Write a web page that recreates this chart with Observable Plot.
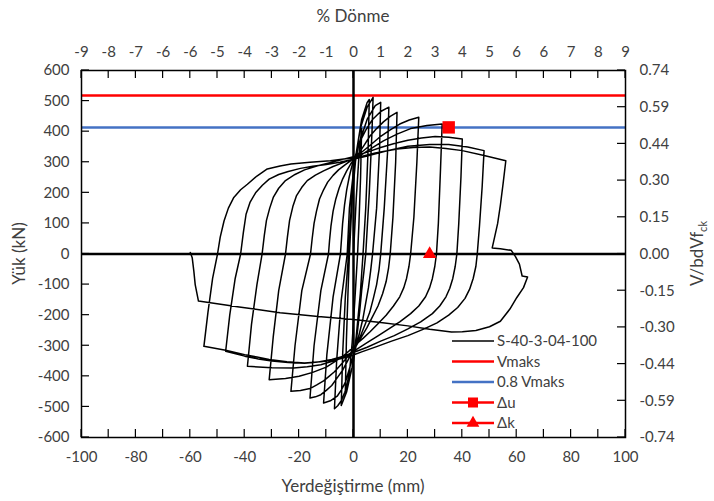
<!DOCTYPE html>
<html>
<head>
<meta charset="utf-8">
<script src="https://cdn.jsdelivr.net/npm/d3@7"></script>
<script src="https://cdn.jsdelivr.net/npm/@observablehq/plot@0.6"></script>
<style>
  html, body { margin: 0; padding: 0; background: #fff; }
  #chart { width: 714px; height: 501px; }
</style>
</head>
<body>
<div id="chart"></div>
<script>
// ---------------- DATA ----------------
// Hysteresis curve S-40-3-04-100: [displacement (mm), load (kN)] in loading order
const hysteresis = [
  [0,0],[1,180],[2,320],[3,410],
  [2.6,250],[2,100],[1.5,0],
  [0.5,-150],[-0.5,-290],[-1.5,-390],[-3,-450],
  [-2.6,-280],[-2,-120],[-1.5,0],
  [-0.5,180],[1,330],[3,440],[5,495],[5.8,505],
  [5.4,350],[4.5,150],[3.5,0],
  [2.5,-130],[1,-270],[-0.5,-370],[-2.5,-450],[-4.5,-495],
  [-4,-330],[-3,-140],[-1.8,0],
  [-0.8,160],[0.5,300],[2.5,410],[5,480],[7.2,512],
  [6.8,400],[5.8,200],[4.5,0],
  [3.8,-60],[3,-120],[2.3,-185],[1.5,-250],[0.8,-300],[0,-350],[-1,-390],[-2,-420],[-3.2,-452],[-4.5,-480],[-5.8,-496],[-7,-506],
  [-6.2,-350],[-4.5,-150],[-2.3,0],
  [-1.5,150],[0,270],[2,360],[5,440],[8,485],[10,496],
  [9.6,350],[8.5,150],[7,0],
  [6.3,-55],[5.5,-110],[4.5,-160],[3.5,-210],[2.3,-255],[1,-300],[0,-330],[-1,-360],[-2,-390],[-3,-420],[-4.5,-445],[-6,-465],[-8.5,-480],[-11,-487],
  [-9.8,-330],[-7.5,-140],[-4.8,0],
  [-4.4,50],[-4,100],[-3.3,160],[-2.5,210],[-1.5,255],[-0.5,290],[1,330],[2.5,370],[4.5,405],[7,440],[10,466],[13,480],
  [12.5,330],[11.3,150],[10,0],
  [9.4,-50],[8.5,-100],[7.3,-145],[6,-190],[4.3,-230],[2.5,-270],[0.7,-300],[-1,-330],[-2.5,-355],[-4,-380],[-6,-405],[-8,-430],[-10,-446],[-12,-460],[-14,-467],[-16,-471],
  [-14.5,-300],[-12,-120],[-9.2,0],
  [-8.8,45],[-8.3,90],[-7.5,140],[-6.5,180],[-5.3,215],[-4,245],[-2.5,272],[-1,295],[0.5,313],[2,330],[4,357],[6,385],[8.5,410],[11,432],[13.5,450],[16,463],
  [15.5,300],[14.5,120],[13.5,0],
  [12.9,-45],[12,-90],[10.7,-130],[9,-170],[7,-205],[5,-240],[3,-270],[1,-300],[-1,-323],[-3,-345],[-5,-365],[-7,-385],[-9,-400],[-11,-415],[-13.5,-428],[-16,-440],[-19.5,-446],[-23,-449],
  [-21.5,-300],[-19,-120],[-15.8,0],
  [-15.2,50],[-14.5,100],[-13.6,140],[-12.5,180],[-11,210],[-9.5,235],[-7.5,257],[-5.5,275],[-3,292],[-1,305],[1.5,322],[4,340],[7,362],[10,385],[13.5,406],[17,425],[20.5,438],[24,447],
  [23.3,300],[22.2,120],[21,0],
  [20.4,-40],[19.5,-80],[18.5,-110],[17,-140],[14.7,-170],[12,-200],[9,-228],[6,-255],[3.5,-276],[1,-295],[-1.5,-316],[-4,-335],[-7,-353],[-10,-370],[-15,-387],[-20,-400],[-25,-407],[-31,-411],
  [-29.5,-270],[-27.5,-120],[-25,0],
  [-24.3,55],[-23.5,110],[-22.3,155],[-21,190],[-19,218],[-17,240],[-14,258],[-11,272],[-7.5,286],[-4,298],[0,312],[3,325],[7,348],[11,370],[16,392],[21,410],[27,420],[32.6,425],
  [32,280],[31.2,100],[30.5,0],
  [29.9,-40],[29,-80],[28,-110],[26.5,-140],[24,-170],[21,-195],[17,-222],[13,-245],[9,-268],[5,-290],[1,-313],[-3,-335],[-7.5,-350],[-12,-362],[-17,-369],[-22,-373],[-30,-372],[-39,-367],
  [-37.5,-230],[-35.5,-100],[-33.6,0],
  [-32.8,60],[-32,110],[-30.8,150],[-29.5,185],[-27.5,215],[-25,240],[-21.5,260],[-18,275],[-13.5,288],[-9,298],[-4.5,308],[0,318],[5,333],[10,348],[15,361],[20,372],[25,379],[30,384],[35,382],[40,376],
  [39.5,250],[38.7,100],[38,0],
  [37.4,-40],[36.5,-80],[35.4,-112],[34,-140],[31.7,-170],[29,-195],[24.7,-222],[20,-245],[15,-267],[10,-285],[5,-305],[0,-322],[-4,-335],[-8,-345],[-13,-353],[-18,-357],[-24,-355],[-30,-350],[-35,-343],[-40,-334],[-47,-318],
  [-45.5,-200],[-43.5,-80],[-41.5,0],
  [-40.5,70],[-39.5,130],[-38,170],[-36,200],[-33.5,225],[-31,245],[-27.5,260],[-24,270],[-19.5,280],[-15,287],[-10,293],[-5,300],[0,310],[5,320],[12,337],[20,352],[28,358],[35,358],[42,350],[48,338],
  [47.3,220],[46.3,90],[45.5,0],
  [45,-40],[44,-80],[42.7,-115],[41,-145],[38.3,-175],[35,-200],[30.7,-225],[26,-245],[20,-267],[14,-285],[8.5,-303],[3,-320],[-1.5,-335],[-6,-345],[-12,-352],[-18,-356],[-24.5,-352],[-31,-345],[-35.5,-337],[-40,-329],[-47,-315],[-55,-302],
  [-53.5,-190],[-51.8,-80],[-50,0],
  [-49,55],[-47.6,108],[-46,150],[-44,185],[-41.5,210],[-39,228],[-35.5,255],[-31.7,278],[-27,288],[-23,294],[-16,300],[-8.5,305],[1.4,316],[8,330],[16,343],[22,348],[28,350],[34,345],[40,338],[48,322],[56,305],
  [55,230],[54,160],[53,100],[52,60],[51,20],[54,17],[58,12],[59.5,-8],[61,-33],[62,-72],[64,-75],[62.5,-110],[60,-143],[57.5,-180],[54,-220],[50,-238],[45,-250],[40,-254],[36,-255],
  [28,-246],[20,-235],[10,-224],[0,-214],[-13,-204],[-27,-192],[-42,-173],[-57,-154],[-58.2,-100],[-58.7,-56],[-59.3,-12],[-60,5]
];
const vmaksValue = [518];          // Vmaks (kN)
const vmaks08Value = [414];        // 0.8 Vmaks (kN)
const deltaU = [[35, 414]];        // Δu marker
const deltaK = [[28, 0]];          // Δk marker
const seriesNames = ["S-40-3-04-100", "Vmaks", "0.8 Vmaks", "Δu", "Δk"];

const xDomain = [-100, 100];
const yDomain = [-600, 600];
const bottomTicks = [-100,-80,-60,-40,-20,0,20,40,60,80,100];
const minorXTicks = [-100,-90,-80,-70,-60,-50,-40,-30,-20,-10,0,10,20,30,40,50,60,70,80,90,100];
const topLabels = ["-9","-8","-7","-6","-6","-5","-4","-3","-2","-1","0","1","2","3","4","5","6","6","7","8","9"];
const leftTicks = [-600,-500,-400,-300,-200,-100,0,100,200,300,400,500,600];
const rightTicks = [-600,-480,-360,-240,-120,0,120,240,360,480,600];
const rightLabels = ["-0.74","-0.59","-0.44","-0.30","-0.15","0.00","0.15","0.30","0.44","0.59","0.74"];

// ---------------- STYLE ----------------
const RED = "#ff0000", BLUE = "#4472c4", TXT = "#404040";
const FONT = "Lato, 'Open Sans', sans-serif";

const chart = Plot.plot({
  width: 714, height: 501,
  marginLeft: 81, marginRight: 89, marginTop: 70, marginBottom: 64,
  x: {domain: xDomain},
  y: {domain: yDomain},
  style: {fontFamily: FONT, fontSize: "15px", color: TXT, background: "#fff"},
  marks: [
    Plot.ruleY(vmaksValue, {stroke: RED, strokeWidth: 2.5}),
    Plot.ruleY(vmaks08Value, {stroke: BLUE, strokeWidth: 2.5}),
    Plot.line(hysteresis, {x: d => d[0], y: d => d[1], stroke: "#000", strokeWidth: 1.5, curve: "linear", strokeLinejoin: "round"}),
    Plot.ruleY([0], {stroke: "#000", strokeWidth: 2.5}),
    Plot.ruleX([0], {stroke: "#000", strokeWidth: 2.5}),
    Plot.dot(deltaU, {x: d => d[0], y: d => d[1], symbol: "square", r: 7, fill: RED}),
    Plot.dot(deltaK, {x: d => d[0], y: d => d[1], symbol: "triangle", r: 5, fill: RED}),
    Plot.frame({stroke: "#000", strokeWidth: 1.5}),
    Plot.axisY(leftTicks, {anchor: "left", tickSize: 0, tickPadding: 12, tickFormat: d => String(d), label: null, fill: TXT}),
    Plot.axisY(rightTicks, {anchor: "right", tickSize: 0, tickPadding: 14, tickFormat: d => rightLabels[rightTicks.indexOf(d)], label: null, fill: TXT}),
    Plot.axisX(bottomTicks, {anchor: "bottom", tickSize: 0, tickPadding: 14, tickFormat: d => String(d), label: null, fill: TXT}),
    Plot.axisX(minorXTicks, {anchor: "top", tickSize: 0, tickPadding: 14, tickFormat: d => topLabels[minorXTicks.indexOf(d)], label: null, fill: TXT})
  ]
});

document.getElementById("chart").appendChild(chart);

// ---------------- INWARD TICKS, TITLES & LEGEND ----------------
const svg = d3.select(chart);
const xs = chart.scale("x"), ys = chart.scale("y");
const [xL, xR] = xs.range, [yB, yT] = ys.range;
const TL = 8;
const tickG = svg.append("g").attr("stroke", "#000").attr("stroke-width", 1.2);
leftTicks.forEach(v => { const y = ys.apply(v); tickG.append("line").attr("x1", xL).attr("x2", xL + TL).attr("y1", y).attr("y2", y); });
rightTicks.forEach(v => { const y = ys.apply(v); tickG.append("line").attr("x1", xR).attr("x2", xR - TL).attr("y1", y).attr("y2", y); });
minorXTicks.forEach(v => {
  const x = xs.apply(v);
  tickG.append("line").attr("x1", x).attr("x2", x).attr("y1", yB).attr("y2", yB - TL);
  tickG.append("line").attr("x1", x).attr("x2", x).attr("y1", yT).attr("y2", yT + TL);
});

const cx = (xL + xR) / 2;
const cy = (yB + yT) / 2;
const titles = svg.append("g").attr("font-family", FONT).attr("fill", TXT).attr("font-size", 17).attr("text-anchor", "middle");
titles.append("text").attr("x", cx).attr("y", 22).text("% Dönme");
titles.append("text").attr("x", cx).attr("y", 492).text("Yerdeğiştirme (mm)");
titles.append("text").attr("transform", `translate(25,${cy}) rotate(-90)`).text("Yük (kN)");
const rt = titles.append("text").attr("transform", `translate(703,${cy}) rotate(-90)`);
rt.append("tspan").text("V/bdVf");
rt.append("tspan").attr("font-size", 11).attr("dy", 4).text("ck");

const legend = svg.append("g").attr("font-family", FONT).attr("font-size", 15).attr("fill", TXT).attr("text-anchor", "start");
const legendItems = [
  {color: "#000", width: 1.5, marker: null},
  {color: RED, width: 2.5, marker: null},
  {color: BLUE, width: 2.5, marker: null},
  {color: RED, width: 2.5, marker: "square"},
  {color: RED, width: 2.5, marker: "triangle"}
];
const lx0 = 452, lx1 = 494, ly0 = 341, ldy = 20.5;
legendItems.forEach((it, i) => {
  const y = ly0 + i * ldy;
  const g = legend.append("g");
  g.append("line").attr("x1", lx0).attr("x2", lx1).attr("y1", y).attr("y2", y)
    .attr("stroke", it.color).attr("stroke-width", it.width);
  if (it.marker === "square") {
    g.append("rect").attr("x", (lx0 + lx1) / 2 - 5).attr("y", y - 5).attr("width", 10).attr("height", 10).attr("fill", it.color);
  } else if (it.marker === "triangle") {
    g.append("path").attr("transform", `translate(${(lx0 + lx1) / 2},${y})`)
      .attr("d", d3.symbol(d3.symbolTriangle, 70)()).attr("fill", it.color);
  }
  g.append("text").attr("x", lx1 + 3).attr("y", y).attr("dy", "0.35em").text(seriesNames[i]);
});
</script>
</body>
</html>
